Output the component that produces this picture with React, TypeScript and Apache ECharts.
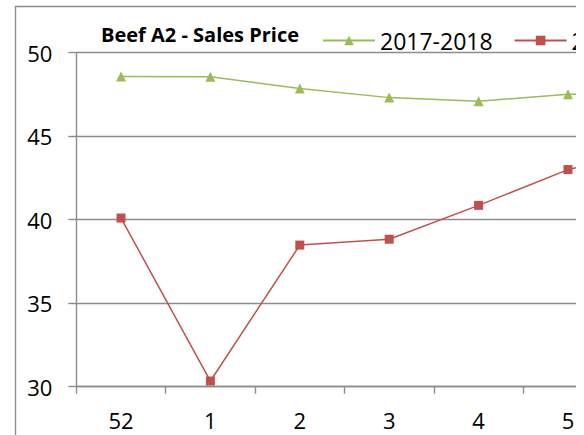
import React, { useEffect, useRef } from "react";
import * as echarts from "echarts";

const categories = ["52", "1", "2", "3", "4", "5", "6"];
const visibleLabelCount = 6;
const series2017 = [48.57, 48.56, 47.85, 47.31, 47.09, 47.51, 47.55];
const series2018 = [40.1, 30.34, 38.48, 38.83, 40.86, 43.0, 44.2];
const seriesNames = ["2017-2018", "2018-2019"];
const yTicks = { min: 30, max: 50, interval: 5 };
const titleText = "Beef A2 - Sales Price";

const GRAY = "#8c8c8c";
const FONT = "'Open Sans', 'Noto Sans', sans-serif";

export default function App() {
  const ref = useRef<HTMLDivElement>(null);
  useEffect(() => {
    if (!ref.current) return;
    const chart = echarts.init(ref.current, undefined, { renderer: "svg" });
    chart.setOption({
      animation: false,
      backgroundColor: "#ffffff",
      textStyle: { fontFamily: FONT },
      graphic: [
        {
          type: "rect",
          shape: { x: 15.5, y: 6.5, width: 780, height: 600 },
          style: { fill: "none", stroke: GRAY, lineWidth: 1.4 },
          silent: true,
        },
        {
          type: "text",
          left: 101,
          top: 24,
          style: {
            text: titleText,
            fontFamily: FONT,
            fontWeight: "bold",
            fontSize: 20,
            fill: "#000",
          },
        },
      ],
      legend: {
        left: 317,
        top: 24,
        itemWidth: 52,
        itemHeight: 12,
        itemGap: 21,
        textStyle: { fontSize: 23, color: "#000", fontFamily: FONT },
        data: seriesNames,
      },
      grid: { left: 76.3, top: 52.7, width: 625.8, height: 334 },
      xAxis: {
        type: "category",
        data: categories,
        boundaryGap: true,
        axisLine: { lineStyle: { color: GRAY, width: 1.4 } },
        axisTick: { show: true, length: 7, lineStyle: { color: GRAY, width: 1.4 } },
        axisLabel: {
          fontSize: 22,
          color: "#000",
          margin: 22,
          fontFamily: FONT,
          formatter: (v: string, i: number) => (i < visibleLabelCount ? v : ""),
        },
        splitLine: { show: false },
      },
      yAxis: {
        type: "value",
        min: yTicks.min,
        max: yTicks.max,
        interval: yTicks.interval,
        axisLine: { show: true, lineStyle: { color: GRAY, width: 1.4 } },
        axisTick: { show: true, length: 8, lineStyle: { color: GRAY, width: 1.4 } },
        axisLabel: { fontSize: 22, color: "#000", margin: 24, fontFamily: FONT },
        splitLine: { show: true, lineStyle: { color: GRAY, width: 1.4 } },
      },
      series: [
        {
          name: seriesNames[0],
          type: "line",
          data: series2017,
          symbol: "triangle",
          symbolSize: 10,
          color: "#9BBB59",
          lineStyle: { width: 1.5, color: "#9BBB59" },
          itemStyle: { color: "#9BBB59" },
        },
        {
          name: seriesNames[1],
          type: "line",
          data: series2018,
          symbol: "rect",
          symbolSize: 9,
          color: "#C0504D",
          lineStyle: { width: 1.5, color: "#C0504D" },
          itemStyle: { color: "#C0504D" },
        },
      ],
    });
    return () => chart.dispose();
  }, []);
  return (
    <div
      style={{
        position: "absolute",
        left: 0,
        top: 0,
        width: 576,
        height: 435,
        overflow: "hidden",
        background: "#fff",
      }}
    >
      <div ref={ref} style={{ width: 720, height: 435 }} />
    </div>
  );
}
